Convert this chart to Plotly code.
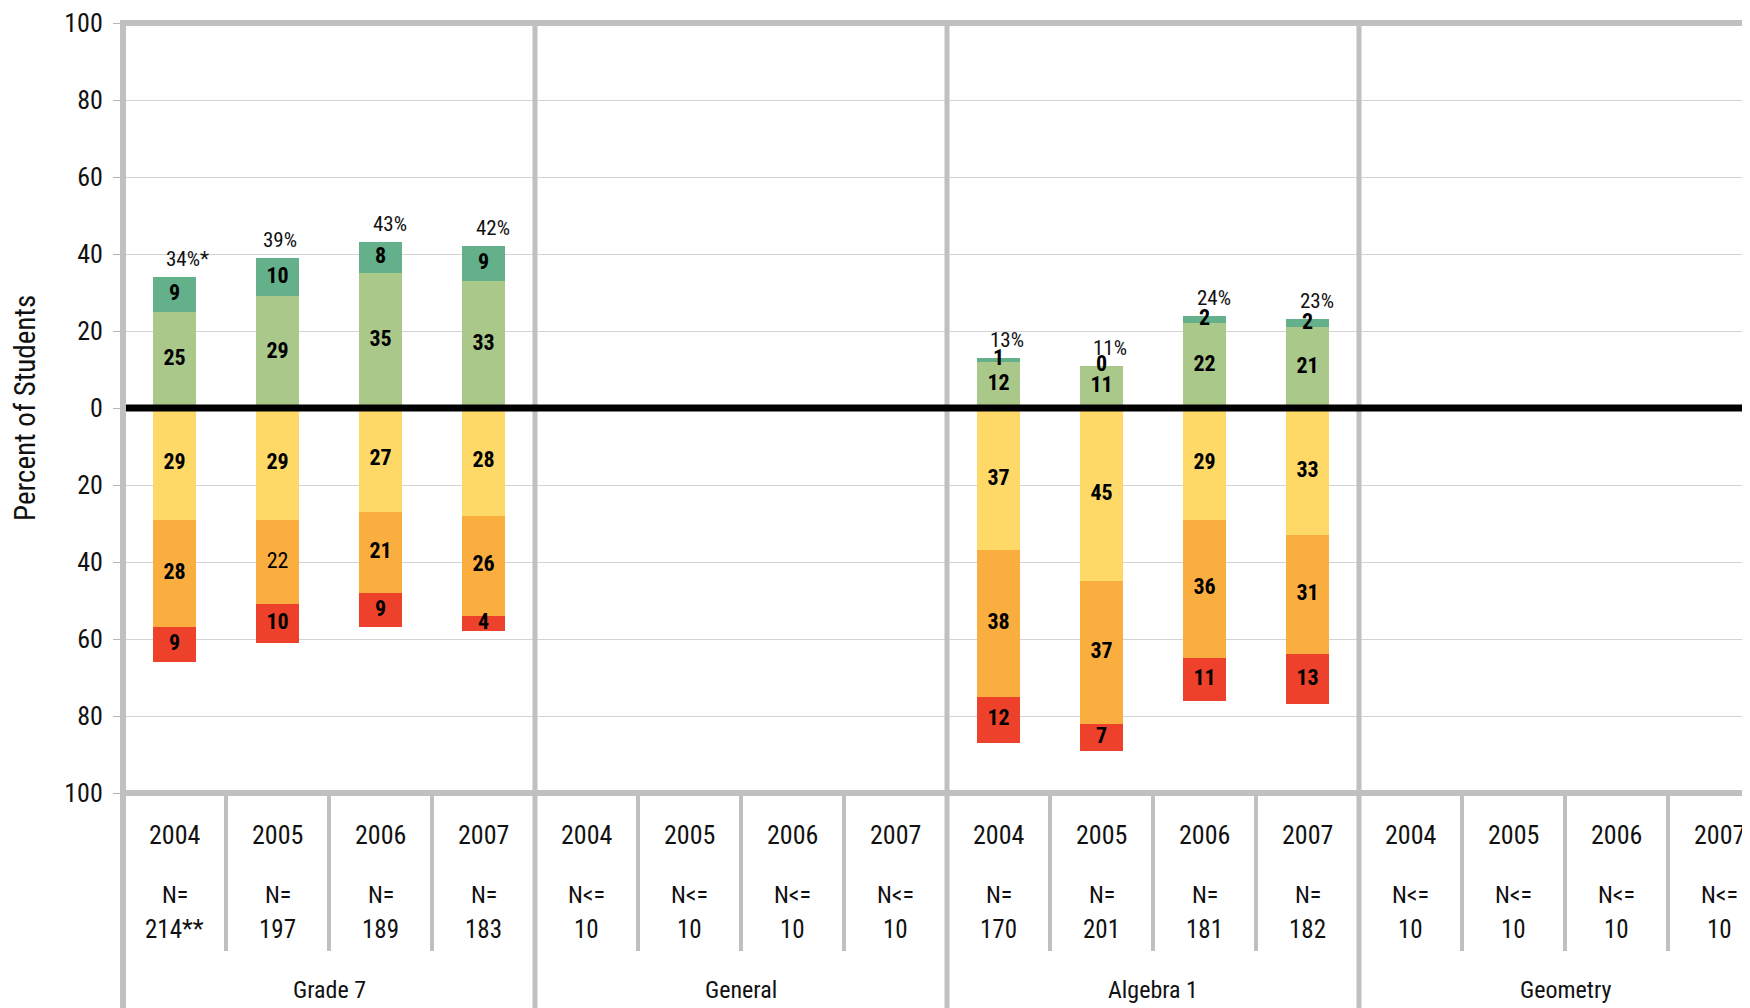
import plotly.graph_objects as go

# ---------------- data ----------------
sections = ["Grade 7", "General", "Algebra 1", "Geometry"]
years = ["2004", "2005", "2006", "2007"]

n_prefix = ["N=", "N=", "N=", "N=",
            "N<=", "N<=", "N<=", "N<=",
            "N=", "N=", "N=", "N=",
            "N<=", "N<=", "N<=", "N<="]
n_values = ["214**", "197", "189", "183",
            "10", "10", "10", "10",
            "170", "201", "181", "182",
            "10", "10", "10", "10"]

# above the line
dark_green = [9, 10, 8, 9, None, None, None, None, 1, 0, 2, 2, None, None, None, None]
light_green = [25, 29, 35, 33, None, None, None, None, 12, 11, 22, 21, None, None, None, None]
# below the line
yellow = [29, 29, 27, 28, None, None, None, None, 37, 45, 29, 33, None, None, None, None]
orange = [28, 22, 21, 26, None, None, None, None, 38, 37, 36, 31, None, None, None, None]
red = [9, 10, 9, 4, None, None, None, None, 12, 7, 11, 13, None, None, None, None]

pct_labels = ["34%*", "39%", "43%", "42%", None, None, None, None,
              "13%", "11%", "24%", "23%", None, None, None, None]

tick_vals = [100, 80, 60, 40, 20, 0, -20, -40, -60, -80, -100]
tick_text = ["100", "80", "60", "40", "20", "0", "20", "40", "60", "80", "100"]

# ---------------- styling ----------------
# labels drawn in regular weight instead of bold (slot, series)
plain_labels = {(1, "orange")}
# horizontal nudges of the percent labels (px)
pct_xshift = [13, 2, 9, 9, 0, 0, 0, 0, 8, 8, 9, 9, 0, 0, 0, 0]

FONT = "Roboto Condensed, DejaVu Sans Condensed, sans-serif"
TXT = "#111111"
C_DG = "#63b08a"
C_LG = "#abc88b"
C_YE = "#fed967"
C_OR = "#fbae40"
C_RE = "#ee412b"
FRAME = "#c0c0c0"

W, H = 1750, 1008
OFF = 8                      # page offset of the figure (body margin)
PLOT_TOP, PLOT_BOT = 23, 793  # page pixels
LEFT = 123                   # page pixel of left frame
SLOT = 103.0                 # px per year slot
ML = LEFT - OFF
MT = PLOT_TOP - OFF
MB = H - (PLOT_BOT - OFF)
plot_h = PLOT_BOT - PLOT_TOP
plot_w = W - ML


def py(p):
    """page pixel row -> paper y"""
    return (PLOT_BOT - p) / plot_h


def px(p):
    """page pixel column -> paper x"""
    return (p - LEFT) / plot_w


slots = list(range(16))
BW = 0.41

fig = go.Figure()

series = [
    ("light_green", light_green, C_LG, 1),
    ("dark_green", dark_green, C_DG, 1),
    ("yellow", yellow, C_YE, -1),
    ("orange", orange, C_OR, -1),
    ("red", red, C_RE, -1),
]
for name, vals, col, sgn in series:
    fig.add_trace(go.Bar(
        x=slots, y=[None if v is None else sgn * v for v in vals],
        width=BW, marker=dict(color=col, line=dict(width=0)),
        name=name, showlegend=False, hoverinfo="skip"))

# segment labels at stack centres
lx, ly, lt = [], [], []
for i in slots:
    if light_green[i] is None:
        continue
    for sign in (1, -1):
        acc = 0
        for name, vals, col, sgn in series:
            if sgn != sign:
                continue
            v = vals[i]
            lx.append(i)
            ly.append(sign * (acc + v / 2))
            lt.append(str(v) if (i, name) in plain_labels else "<b>%d</b>" % v)
            acc += v
fig.add_trace(go.Scatter(x=lx, y=ly, text=lt, mode="text",
                         textfont=dict(family=FONT, size=22, color="#000"),
                         showlegend=False, hoverinfo="skip"))

annotations = []
# percent labels above bars
for i in slots:
    if pct_labels[i] is None:
        continue
    top = light_green[i] + dark_green[i]
    annotations.append(dict(x=i, y=top, xref="x", yref="y", text=pct_labels[i],
                            showarrow=False, xanchor="center", yanchor="middle",
                            xshift=pct_xshift[i], yshift=18,
                            font=dict(family=FONT, size=21, color=TXT)))

# category axis labels
for i in slots:
    annotations.append(dict(x=i, y=py(835), xref="x", yref="paper", text=years[i % 4],
                            showarrow=False, xanchor="center", yanchor="middle",
                            font=dict(family=FONT, size=26, color=TXT)))
    annotations.append(dict(x=i, y=py(895), xref="x", yref="paper", text=n_prefix[i],
                            showarrow=False, xanchor="center", yanchor="middle",
                            font=dict(family=FONT, size=24, color=TXT)))
    annotations.append(dict(x=i, y=py(930), xref="x", yref="paper", text=n_values[i],
                            showarrow=False, xanchor="center", yanchor="middle",
                            font=dict(family=FONT, size=25, color=TXT)))
for k, s in enumerate(sections):
    annotations.append(dict(x=4 * k + 1.5, y=py(990), xref="x", yref="paper", text=s,
                            showarrow=False, xanchor="center", yanchor="middle",
                            font=dict(family=FONT, size=24, color=TXT)))

# y axis title
annotations.append(dict(x=px(25), y=py(408), xref="paper", yref="paper",
                        text="Percent of Students", textangle=-90, showarrow=False,
                        xanchor="center", yanchor="middle",
                        font=dict(family=FONT, size=29, color=TXT)))

shapes = []
# year separators in category area
for k in range(4):
    for j in range(1, 4):
        xs = 4 * k + j - 0.5
        shapes.append(dict(type="line", xref="x", yref="paper", x0=xs, x1=xs,
                           y0=0, y1=py(951), line=dict(color=FRAME, width=4)))
# section separators
for k in range(1, 4):
    xs = 4 * k - 0.5
    shapes.append(dict(type="line", xref="x", yref="paper", x0=xs, x1=xs,
                       y0=1, y1=py(1020), line=dict(color=FRAME, width=5)))
# zero line
shapes.append(dict(type="line", xref="paper", yref="y", x0=0, x1=1, y0=0, y1=0,
                   line=dict(color="#000", width=7)))
# frame
shapes.append(dict(type="line", xref="paper", yref="paper", x0=0, x1=1, y0=1, y1=1,
                   line=dict(color=FRAME, width=6)))
shapes.append(dict(type="line", xref="paper", yref="paper", x0=0, x1=1, y0=0, y1=0,
                   line=dict(color=FRAME, width=6)))
shapes.append(dict(type="line", xref="paper", yref="paper", x0=0, x1=0, y0=py(20), y1=py(1020),
                   line=dict(color=FRAME, width=6)))

fig.update_layout(
    width=W, height=H,
    margin=dict(l=ML, r=0, t=MT, b=MB, pad=0),
    plot_bgcolor="white", paper_bgcolor="white",
    barmode="relative", bargap=0,
    font=dict(family=FONT, color=TXT),
    xaxis=dict(range=[-0.5, -0.5 + plot_w / SLOT], showticklabels=False,
               showgrid=False, zeroline=False, showline=False, ticks=""),
    yaxis=dict(range=[-100, 100], tickvals=tick_vals, ticktext=tick_text,
               showgrid=True, gridcolor="#d4d4d4", gridwidth=1, zeroline=False,
               showline=False, ticks="outside", ticklen=9, tickcolor="#b5b5b5",
               tickwidth=1, ticklabelstandoff=5,
               tickfont=dict(family=FONT, size=26, color=TXT)),
    annotations=annotations,
    shapes=shapes,
)

fig.write_html("out.html")
